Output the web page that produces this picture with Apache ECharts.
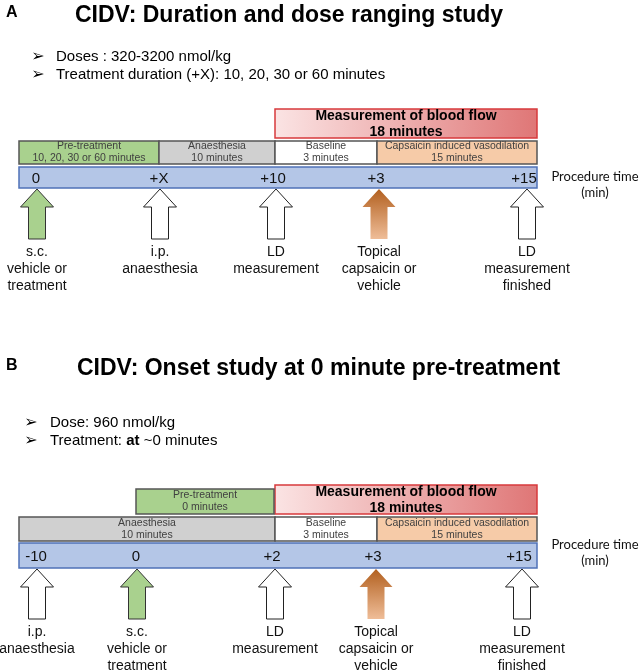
<!DOCTYPE html>
<html>
<head>
<meta charset="utf-8">
<script src="https://cdn.jsdelivr.net/npm/echarts@6/dist/echarts.min.js"></script>
<style>
  html, body { margin: 0; background: #fff; }
  #chart { width: 642px; height: 672px; }
</style>
</head>
<body>
<div id="chart"></div>
<script>
// panel A: duration and dose ranging
const phaseNamesA = ['Pre-treatment', 'Anaesthesia', 'Baseline', 'Capsaicin induced vasodilation']
const phaseNotesA = ['10, 20, 30 or 60 minutes', '10 minutes', '3 minutes', '15 minutes']
const phaseEdgesA = [0, 140, 256, 358, 518]
const measureSpanA = [256, 518]
const tickLabelsA = ['0', '+X', '+10', '+3', '+15']
const eventAtA = [18, 141, 257, 360, 508]
const eventKindsA = ['sc', 'open', 'open', 'topical', 'open']
const eventLabelsA = [
  's.c.\nvehicle or\ntreatment',
  'i.p.\nanaesthesia',
  'LD\nmeasurement',
  'Topical\ncapsaicin or\nvehicle',
  'LD\nmeasurement\nfinished',
]

// panel B: onset study
const phaseNamesB = ['Anaesthesia', 'Baseline', 'Capsaicin induced vasodilation']
const phaseNotesB = ['10 minutes', '3 minutes', '15 minutes']
const phaseEdgesB = [0, 256, 358, 518]
const preSpanB = [117, 255]
const measureSpanB = [256, 518]
const tickLabelsB = ['-10', '0', '+2', '+3', '+15']
const eventAtB = [18, 118, 256, 357, 503]
const eventKindsB = ['open', 'sc', 'open', 'topical', 'open']
const eventLabelsB = [
  'i.p.\nanaesthesia',
  's.c.\nvehicle or\ntreatment',
  'LD\nmeasurement',
  'Topical\ncapsaicin or\nvehicle',
  'LD\nmeasurement\nfinished',
]

const font = 'Liberation Sans, Arial, sans-serif'
const boxStroke = '#555'
const phaseColors = {
  'Pre-treatment': '#a9d18e',
  Anaesthesia: '#d0d0d0',
  Baseline: '#ffffff',
  'Capsaicin induced vasodilation': '#f6cba8',
}

// row offsets (px from grid top) for each panel
const rowsA = { measure: [0, 29], phase: [32, 55], bar: [58, 79] }
const rowsB = { measure: [0, 29], pre: [4, 29], phase: [32, 56], bar: [58, 83] }

function boxItem(api, cs, from, to, row, fill, stroke, text, textStyle) {
  const x0 = api.coord([from, 0])[0]
  const x1 = api.coord([to, 0])[0]
  const y0 = cs.y + row[0]
  const h = row[1] - row[0]
  const children = [{
    type: 'rect',
    shape: { x: x0, y: y0, width: x1 - x0, height: h },
    style: { fill, stroke, lineWidth: 1.5 },
  }]
  if (text) {
    children.push({
      type: 'text',
      style: Object.assign({
        text,
        x: (x0 + x1) / 2,
        y: y0 + h / 2,
        align: 'center',
        verticalAlign: 'middle',
      }, textStyle),
    })
  }
  return { type: 'group', children }
}

const phaseText = { fontFamily: font, fontSize: 10.5, lineHeight: 12, fill: '#404040' }

function phaseSeries(gi, names, notes, edges, rows) {
  return {
    type: 'custom',
    xAxisIndex: gi,
    yAxisIndex: gi,
    data: names.map((n, i) => [edges[i], edges[i + 1], i]),
    renderItem(params, api) {
      const i = api.value(2)
      return boxItem(api, params.coordSys, api.value(0), api.value(1), rows.phase,
        phaseColors[names[i]], boxStroke, names[i] + '\n' + notes[i], phaseText)
    },
  }
}

function measureSeries(gi, span, rows) {
  return {
    type: 'custom',
    xAxisIndex: gi,
    yAxisIndex: gi,
    data: [span],
    renderItem(params, api) {
      const fill = new echarts.graphic.LinearGradient(0, 0, 1, 0, [
        { offset: 0, color: '#fbe4e4' },
        { offset: 1, color: '#df7676' },
      ])
      const g = boxItem(api, params.coordSys, api.value(0), api.value(1), rows.measure,
        fill, '#d83a3c', 'Measurement of blood flow\n18 minutes',
        { fontFamily: font, fontSize: 14, fontWeight: 'bold', lineHeight: 16, fill: '#000' })
      g.children[1].style.y += 1
      return g
    },
  }
}

function barSeries(gi, edges, rows) {
  return {
    type: 'custom',
    xAxisIndex: gi,
    yAxisIndex: gi,
    data: [[edges[0], edges[edges.length - 1]]],
    renderItem(params, api) {
      return boxItem(api, params.coordSys, api.value(0), api.value(1), rows.bar,
        '#b4c6e7', '#4f72b8', '', null)
    },
  }
}

function arrowFill(kind) {
  if (kind === 'sc') return { fill: '#a9d18e', stroke: '#333', lineWidth: 1 }
  if (kind === 'topical') {
    return {
      fill: new echarts.graphic.LinearGradient(0, 0, 0, 1, [
        { offset: 0, color: '#b2601f' },
        { offset: 1, color: '#efbd98' },
      ]),
      stroke: null,
    }
  }
  return { fill: '#fff', stroke: '#222', lineWidth: 1 }
}

function eventSeries(gi, at, ticks, kinds, labels, rows) {
  return {
    type: 'custom',
    xAxisIndex: gi,
    yAxisIndex: gi,
    data: at.map((x, i) => [x, i]),
    renderItem(params, api) {
      const cs = params.coordSys
      const i = api.value(1)
      const cx = api.coord([api.value(0), 0])[0]
      const tip = cs.y + rows.bar[1] + 1
      const barMid = cs.y + (rows.bar[0] + rows.bar[1]) / 2
      const hw = 16.5, sw = 8.5, head = 18, len = 50
      const pts = [
        [cx, tip], [cx + hw, tip + head], [cx + sw, tip + head], [cx + sw, tip + len],
        [cx - sw, tip + len], [cx - sw, tip + head], [cx - hw, tip + head],
      ]
      return {
        type: 'group',
        children: [
          {
            type: 'text',
            style: {
              text: ticks[i], x: cx - (i > 1 ? 3 : 1), y: barMid + 1, align: 'center', verticalAlign: 'middle',
              fontFamily: font, fontSize: 15, fill: '#111',
            },
          },
          { type: 'polygon', shape: { points: pts }, style: arrowFill(kinds[i]) },
          {
            type: 'text',
            style: {
              text: labels[i], x: cx, y: tip + 55, align: 'center', verticalAlign: 'top',
              fontFamily: font, fontSize: 14, lineHeight: 17, fill: '#111',
            },
          },
        ],
      }
    },
  }
}

function preSeriesB(span, rows) {
  return {
    type: 'custom',
    xAxisIndex: 1,
    yAxisIndex: 1,
    data: [span],
    renderItem(params, api) {
      return boxItem(api, params.coordSys, api.value(0), api.value(1), rows.pre,
        phaseColors['Pre-treatment'], boxStroke, 'Pre-treatment\n0 minutes', phaseText)
    },
  }
}

function textEl(text, x, y, size, weight, extra) {
  return Object.assign({
    type: 'text',
    x, y,
    style: {
      text, fontFamily: font, fontSize: size, fontWeight: weight || 'normal',
      fill: '#000', verticalAlign: 'middle',
    },
  }, extra || {})
}

function procTime(y) {
  const s = { fontFamily: 'Lato, sans-serif', fontSize: 13, fill: '#111', align: 'center', verticalAlign: 'middle' }
  return [
    { type: 'text', x: 595, y, style: Object.assign({ text: 'Procedure time' }, s) },
    { type: 'text', x: 595, y: y + 16, style: Object.assign({ text: '(min)' }, s) },
  ]
}

const bulletStyle = { fontFamily: 'DejaVu Sans', fontSize: 16, fill: '#000', verticalAlign: 'middle', align: 'center' }

const chart = echarts.init(document.getElementById('chart'))

const option = {
  animation: false,
  grid: [
    { left: 19, top: 109, width: 518, height: 80 },
    { left: 19, top: 485, width: 518, height: 83 },
  ],
  xAxis: [
    { type: 'value', gridIndex: 0, min: 0, max: 518, show: false },
    { type: 'value', gridIndex: 1, min: 0, max: 518, show: false },
  ],
  yAxis: [
    { type: 'value', gridIndex: 0, min: 0, max: 80, inverse: true, show: false },
    { type: 'value', gridIndex: 1, min: 0, max: 83, inverse: true, show: false },
  ],
  graphic: [
    textEl('A', 6, 13, 16, 'bold'),
    textEl('CIDV: Duration and dose ranging study', 75, 16, 23, 'bold'),
    { type: 'text', x: 38, y: 57, style: Object.assign({ text: '➢' }, bulletStyle) },
    textEl('Doses : 320-3200 nmol/kg', 56, 57, 15),
    { type: 'text', x: 38, y: 75, style: Object.assign({ text: '➢' }, bulletStyle) },
    textEl('Treatment duration (+X): 10, 20, 30 or 60 minutes', 56, 75, 15),
    ...procTime(177),

    textEl('B', 6, 366, 16, 'bold'),
    textEl('CIDV: Onset study at 0 minute pre-treatment', 77, 369, 23, 'bold'),
    { type: 'text', x: 31, y: 423, style: Object.assign({ text: '➢' }, bulletStyle) },
    textEl('Dose: 960 nmol/kg', 50, 423, 15),
    { type: 'text', x: 31, y: 441, style: Object.assign({ text: '➢' }, bulletStyle) },
    {
      type: 'text',
      x: 50,
      y: 441,
      style: {
        text: '{n|Treatment: }{b|at}{n| ~0 minutes}',
        verticalAlign: 'middle',
        rich: {
          n: { fontFamily: font, fontSize: 15, fill: '#000' },
          b: { fontFamily: font, fontSize: 15, fontWeight: 'bold', fill: '#000' },
        },
      },
    },
    ...procTime(545),
  ],
  series: [
    measureSeries(0, measureSpanA, rowsA),
    phaseSeries(0, phaseNamesA, phaseNotesA, phaseEdgesA, rowsA),
    barSeries(0, phaseEdgesA, rowsA),
    eventSeries(0, eventAtA, tickLabelsA, eventKindsA, eventLabelsA, rowsA),

    measureSeries(1, measureSpanB, rowsB),
    preSeriesB(preSpanB, rowsB),
    phaseSeries(1, phaseNamesB, phaseNotesB, phaseEdgesB, rowsB),
    barSeries(1, phaseEdgesB, rowsB),
    eventSeries(1, eventAtB, tickLabelsB, eventKindsB, eventLabelsB, rowsB),
  ],
}

chart.setOption(option)
</script>
</body>
</html>
